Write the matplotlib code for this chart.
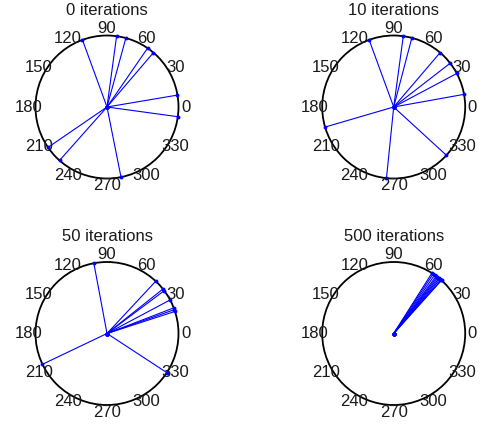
import numpy as np
import matplotlib
matplotlib.use("Agg")
import matplotlib.pyplot as plt
from matplotlib.patches import Circle

plt.rcParams['font.family'] = ['Liberation Sans', 'DejaVu Sans']

titles = ["0 iterations", "10 iterations", "50 iterations", "500 iterations"]
angles_0 = [110.1, 82.3, 74.7, 55.4, 49.5, 9.6, 352.2, 214.4, 228.4, 281.3]
angles_10 = [110.1, 82.3, 75.3, 49.5, 37.8, 28.0, 10.2, 196.3, 264.2, 317.5]
angles_50 = [100.6, 47.0, 38.5, 36.8, 28.0, 21.0, 19.5, 18.0, 205.5, 326.8]
angles_500 = [57.7, 56.5, 55.0, 53.5, 52.5, 51.5, 50.5, 49.5, 48.5, 48.0]
tick_angles = [0, 30, 60, 90, 120, 150, 180, 210, 240, 270, 300, 330]
all_angles = [angles_0, angles_10, angles_50, angles_500]

W, H = 484, 426
fig = plt.figure(figsize=(W / 100, H / 100), dpi=100)

centers = [(107, 107), (393.7, 107), (107, 333.5), (393.7, 333.5)]
R = 71.5
for (cx, cy), title, angs in zip(centers, titles, all_angles):
    ax = fig.add_axes([(cx - R) / W, (H - cy - R) / H, 2 * R / W, 2 * R / H])
    ax.set_xlim(-1, 1)
    ax.set_ylim(-1, 1)
    ax.set_aspect('equal')
    ax.axis('off')
    ax.add_patch(Circle((0, 0), 1, fill=False, edgecolor='black', lw=1.3, clip_on=False))
    for a in angs:
        t = np.deg2rad(a)
        ax.plot([0, np.cos(t)], [0, np.sin(t)], color='#0000ff', lw=0.8,
                marker='o', markersize=2.8, markeredgewidth=0, clip_on=False)
    for ta in tick_angles:
        t = np.deg2rad(ta)
        ax.text(1.1 * np.cos(t), 1.1 * np.sin(t), str(ta), ha='center', va='center',
                fontsize=12, color='#1a1a1a')
    ax.set_title(title, fontsize=12, pad=15, color='#1a1a1a')

fig.savefig("out.png", dpi=100)
